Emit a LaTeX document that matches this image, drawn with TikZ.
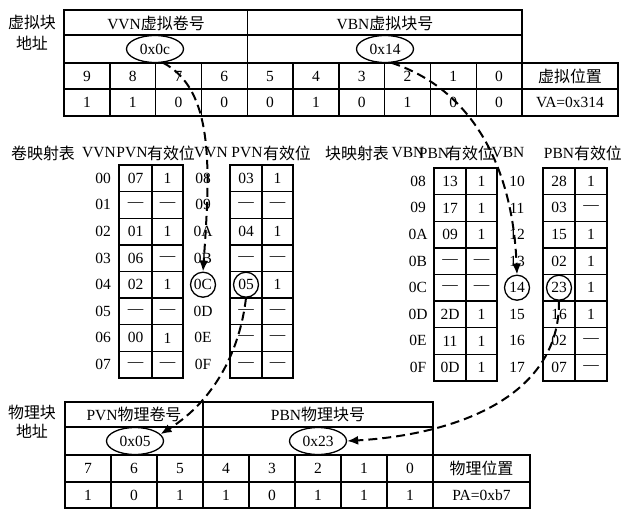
\documentclass[tikz,border=0pt]{standalone}
\usepackage{fontspec}
\setmainfont{Liberation Serif}
\newfontfamily\cjk[Scale=1.03]{Noto Sans CJK SC}
\usetikzlibrary{arrows.meta,shapes.geometric}
\newcommand\mgrid[4]{% x1, xm, x2, top
  \draw[tbl] (#1,#4) rectangle (#3,#4+212.8);
  \draw[tbl] (#2,#4) -- (#2,#4+212.8);
  \foreach \k in {1,...,7} \draw[tbl] (#1,#4+26.6*\k) -- (#3,#4+26.6*\k);
}
\begin{document}
\begin{tikzpicture}[x=1pt,y=-1pt,font=\fontsize{15.5}{18}\selectfont,
  tbl/.style={line width=1.4pt},
  txt/.style={inner sep=0pt,anchor=center},
  oval/.style={ellipse,draw,line width=1.3pt,minimum width=57pt,minimum height=27pt,inner sep=0pt},
  circ/.style={circle,draw,line width=1.3pt,minimum size=25pt,inner sep=0pt},
  arr/.style={line width=2pt,dash pattern=on 9pt off 5pt,-{Latex[length=11pt,width=9pt]}}]
\useasboundingbox (0,0) rectangle (623,509);

% ---------- top table ----------
\node[txt] (la1) at (32,22) {\cjk 虚拟块};
\node[txt] (la2) at (32,43) {\cjk 地址};
\draw[tbl] (64,10) rectangle (522,116);
\draw[tbl] (522,63) rectangle (618,116);
\draw[tbl] (64,35) -- (522,35) (64,63) -- (522,63) (64,89) -- (618,89);
\draw[tbl] (247.2,10) -- (247.2,116);
\foreach \k in {1,2,3,5,6,7,8,9} \draw[tbl] (64+45.8*\k,63) -- (64+45.8*\k,116);
\node[txt] (vvnh) at (156,23) {VVN{\cjk 虚拟卷号}};
\node[txt] (vbnh) at (385,23) {VBN{\cjk 虚拟块号}};
\node[oval] (e1) at (155,49) {0x0c};
\node[oval] (e2) at (385,49) {0x14};
\foreach \b/\v [count=\i from 0] in {9/1,8/1,7/0,6/0,5/0,4/1,3/0,2/1,1/0,0/0} {
  \node[txt] (vb\i) at (86.9+45.8*\i,76) {\b};
  \node[txt] (vv\i) at (86.9+45.8*\i,102.5) {\v};
}
\node[txt] (vpos) at (570,76) {\cjk 虚拟位置};
\node[txt] (va) at (570,102.5) {VA=0x314};

% ---------- volume mapping table ----------
\node[txt] (jt) at (43,153) {\cjk 卷映射表};
\node[txt] (h1) at (99,153) {VVN};
\node[txt] (h2) at (132,153) {PVN};
\node[txt] (h3) at (171,153) {\cjk 有效位};
\node[txt] (h4) at (211,153) {VVN};
\node[txt] (h5) at (247,153) {PVN};
\node[txt] (h6) at (287,153) {\cjk 有效位};
\mgrid{119}{152}{183}{165}
\mgrid{230}{262}{293}{165}
\foreach \a/\p/\q [count=\i from 0] in {00/07/1,01/—/—,02/01/1,03/06/—,04/02/1,05/—/—,06/00/1,07/—/—} {
  \node[txt] (vi\i) at (103,178.3+26.6*\i) {\a};
  \node[txt] (vp\i) at (135.5,178.3+26.6*\i) {\p};
  \node[txt] (vq\i) at (167.5,178.3+26.6*\i) {\q};
}
\foreach \a/\p/\q [count=\i from 0] in {08/03/1,09/—/—,0A/04/1,0B/—/—,x/x/1,0D/—/—,0E/—/—,0F/—/—} {
  \ifnum\i=4\else
  \node[txt] (wi\i) at (203,178.3+26.6*\i) {\a};
  \node[txt] (wp\i) at (246,178.3+26.6*\i) {\p};
  \fi
  \node[txt] (wq\i) at (277.5,178.3+26.6*\i) {\q};
}
\node[circ] (c0C) at (203,284.7) {0C};
\node[circ] (c05) at (246,284.7) {05};

% ---------- block mapping table ----------
\node[txt] (kt) at (357,153) {\cjk 块映射表};
\node[txt] (g1) at (408,153) {VBN};
\node[txt] (g2) at (434,153) {PBN};
\node[txt] (g3) at (470,153) {\cjk 有效位};
\node[txt] (g4) at (508,153) {VBN};
\node[txt] (g5) at (559,153) {PBN};
\node[txt] (g6) at (598,153) {\cjk 有效位};
\mgrid{434}{466}{497}{168}
\mgrid{543}{575}{607}{168}
\foreach \a/\p/\q [count=\i from 0] in {08/13/1,09/17/1,0A/09/1,0B/—/—,0C/—/—,0D/2D/1,0E/11/1,0F/0D/1} {
  \node[txt] (bi\i) at (418,181.3+26.6*\i) {\a};
  \node[txt] (bp\i) at (450,181.3+26.6*\i) {\p};
  \node[txt] (bq\i) at (481.5,181.3+26.6*\i) {\q};
}
\foreach \a/\p/\q [count=\i from 0] in {10/28/1,11/03/—,12/15/1,13/02/1,x/x/1,15/16/1,16/02/—,17/07/—} {
  \ifnum\i=4\else
  \node[txt] (di\i) at (517,181.3+26.6*\i) {\a};
  \node[txt] (dp\i) at (559,181.3+26.6*\i) {\p};
  \fi
  \node[txt] (dq\i) at (591,181.3+26.6*\i) {\q};
}
\node[circ] (c14) at (517,287.7) {14};
\node[circ] (c23) at (559,287.7) {23};

% ---------- bottom table ----------
\node[txt] (lb1) at (32,412) {\cjk 物理块};
\node[txt] (lb2) at (32,431) {\cjk 地址};
\draw[tbl] (65,402) rectangle (433,508);
\draw[tbl] (433,455) rectangle (530,508);
\draw[tbl] (65,427) -- (433,427) (65,455) -- (433,455) (65,482) -- (530,482);
\draw[tbl] (203,402) -- (203,508);
\foreach \k in {1,2,4,5,6,7} \draw[tbl] (65+46*\k,455) -- (65+46*\k,508);
\node[txt] (pvnh) at (134,414.5) {PVN{\cjk 物理卷号}};
\node[txt] (pbnh) at (318,414.5) {PBN{\cjk 物理块号}};
\node[oval] (e3) at (135,441) {0x05};
\node[oval] (e4) at (318,441) {0x23};
\foreach \b/\v [count=\i from 0] in {7/1,6/0,5/1,4/1,3/0,2/1,1/1,0/1} {
  \node[txt] (pb\i) at (88+46*\i,468.5) {\b};
  \node[txt] (pv\i) at (88+46*\i,495) {\v};
}
\node[txt] (ppos) at (481.5,468.5) {\cjk 物理位置};
\node[txt] (pa) at (481.5,495) {PA=0xb7};

% ---------- arrows ----------
\draw[arr] (e1.-60) .. controls (215,90) and (210,170) .. (c0C.north);
\draw[arr] (e2.-65) .. controls (460,85) and (512,150) .. (c14.north);
\draw[arr] (c05.south) .. controls (240,350) and (215,400) .. (e3.15);
\draw[arr] (c23.south) .. controls (560,400) and (450,435) .. (e4.east);
\end{tikzpicture}
\end{document}
